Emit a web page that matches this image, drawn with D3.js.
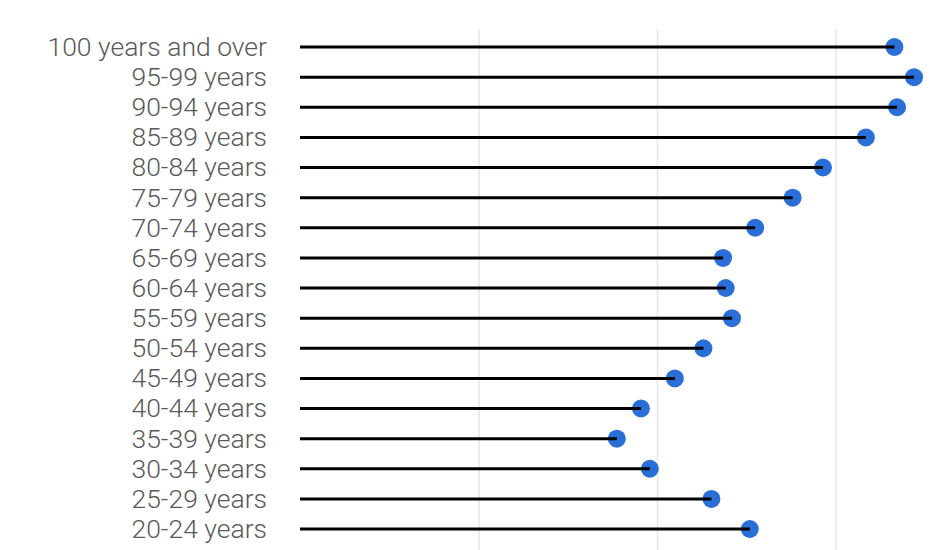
<!DOCTYPE html>
<html>
  <head>
    <title>Lollipop by age group</title>
    <script src="https://cdn.jsdelivr.net/npm/d3@7"></script>
    <style>
      body { margin: 0; background: #fff; }
      .label { font-family: Roboto, "Noto Sans", sans-serif; font-weight: 300; font-size: 26.5px; fill: #595959; }
    </style>
  </head>
  <body>
    <svg width="950" height="550" id="mainsvg"></svg>
    <script>
      const svg = d3.select('#mainsvg');

      // data, top row first
      const ageGroups = [
        '100 years and over', '95-99 years', '90-94 years', '85-89 years',
        '80-84 years', '75-79 years', '70-74 years', '65-69 years',
        '60-64 years', '55-59 years', '50-54 years', '45-49 years',
        '40-44 years', '35-39 years', '30-34 years', '25-29 years', '20-24 years'
      ];
      const values = [
        33.3, 34.4, 33.45, 31.7,
        29.3, 27.6, 25.5, 23.7,
        23.85, 24.2, 22.6, 21.0,
        19.1, 17.75, 19.6, 23.05, 25.2
      ];
      const gridTicks = [10, 20, 30, 40];

      const data = ageGroups.map((name, i) => ({name: name, value: values[i]}));

      const xScale = d3.scaleLinear()
        .domain([0, 40])
        .range([300, 1014]);

      const yScale = d3.scalePoint()
        .domain(ageGroups)
        .range([47, 529]);

      // vertical gridlines
      const xAxis = d3.axisBottom(xScale)
        .tickValues(gridTicks)
        .tickSize(-(560 - 29))
        .tickFormat('');
      const gridGroup = svg.append('g')
        .attr('transform', `translate(0, 560)`)
        .call(xAxis);
      gridGroup.select('.domain').remove();
      gridGroup.selectAll('.tick line')
        .attr('stroke', '#e6e6e6')
        .attr('stroke-width', 1.5);

      // category labels
      const yAxis = d3.axisLeft(yScale).tickSize(0).tickPadding(0);
      const yAxisGroup = svg.append('g')
        .attr('transform', `translate(267, 0)`)
        .call(yAxis);
      yAxisGroup.select('.domain').remove();
      yAxisGroup.selectAll('.tick text')
        .attr('class', 'label')
        .attr('dy', '0.32em')
        .attr('fill', null);

      // dots first, stems drawn over them
      svg.append('g').selectAll('circle')
        .data(data)
        .join('circle')
        .attr('cx', d => xScale(d.value))
        .attr('cy', d => yScale(d.name))
        .attr('r', 9)
        .attr('fill', '#2a6fd8');

      svg.append('g').selectAll('line')
        .data(data)
        .join('line')
        .attr('x1', xScale(0))
        .attr('x2', d => xScale(d.value))
        .attr('y1', d => yScale(d.name))
        .attr('y2', d => yScale(d.name))
        .attr('stroke', '#000')
        .attr('stroke-width', 3);
    </script>
  </body>
</html>
